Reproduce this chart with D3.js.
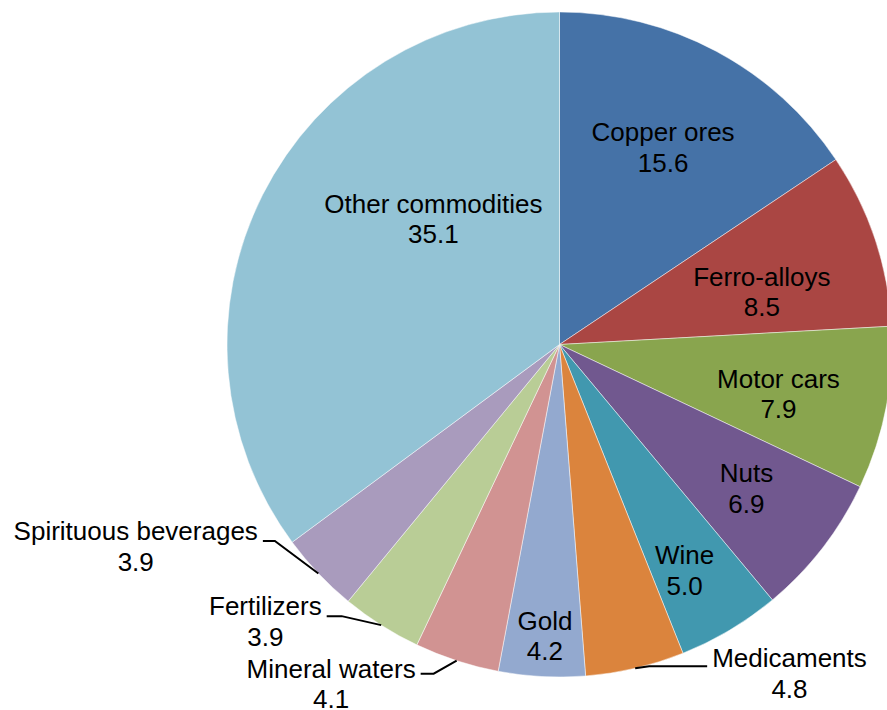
<!DOCTYPE html>
<html>
<head>
<meta charset="utf-8">
<script src="https://cdn.jsdelivr.net/npm/d3@7"></script>
<style>
  html, body { margin: 0; padding: 0; background: #fff; }
  svg { display: block; }
  text { font-family: "Liberation Sans", Arial, sans-serif; font-size: 26px; fill: #000; }
</style>
</head>
<body>
<svg id="chart" width="887" height="710"></svg>
<script>
// ---- data ----
const categories = ["Copper ores", "Ferro-alloys", "Motor cars", "Nuts", "Wine", "Medicaments",
                    "Gold", "Mineral waters", "Fertilizers", "Spirituous beverages", "Other commodities"];
const shares = [15.6, 8.5, 7.9, 6.9, 5.0, 4.8, 4.2, 4.1, 3.9, 3.9, 35.1];
const valueLabels = ["15.6", "8.5", "7.9", "6.9", "5.0", "4.8", "4.2", "4.1", "3.9", "3.9", "35.1"];

// ---- styles / layout ----
const colors = ["#4572A7", "#AA4643", "#89A54E", "#71588F", "#4198AF", "#DB843D",
                "#93A9CF", "#D19392", "#B9CD96", "#A99BBD", "#93C3D5"];
const W = 887, H = 710;
const cx = 559.5, cy = 344.5, R = 332.5;
const lineH = 30.5;

// inside labels: radius fraction and angle shift (degrees) from slice mid-angle
const insideLayout = {
  0: [0.670, -0.4],
  1: [0.629, 3.8],
  2: [0.675, 1.6],
  3: [0.709, -0.2],
  4: [0.776, 1.8],
  6: [0.877, -0.2],
  10: [0.536, 18.2]
};
// outside labels: elbow offset from arc point, horizontal segment length, side, baseline shift
const outsideLayout = {
  5: { elbow: [14, -2], hLen: 58, side: 1, shift: 1 },
  7: { elbow: [-23, 13], hLen: 13, side: -1, shift: 4 },
  8: { elbow: [-39.5, -9], hLen: 15, side: -1, shift: -1 },
  9: { elbow: [-43.5, -32.4], hLen: 12, side: -1, shift: -1 }
};

const svg = d3.select("#chart");
const g = svg.append("g").attr("transform", `translate(${cx},${cy})`);

const pie = d3.pie().sort(null).value(d => d);
const arcs = pie(shares);
const arc = d3.arc().innerRadius(0).outerRadius(R);

g.selectAll("path.slice")
  .data(arcs)
  .join("path")
  .attr("class", "slice")
  .attr("d", arc)
  .attr("fill", (d, i) => colors[i])
  .attr("stroke", "#ffffff")
  .attr("stroke-opacity", 0.6)
  .attr("stroke-width", 0.8);

function polar(angle, r) {
  return [r * Math.sin(angle), -r * Math.cos(angle)];
}

arcs.forEach((d, i) => {
  const mid = (d.startAngle + d.endAngle) / 2;
  if (insideLayout[i]) {
    const [f, shift] = insideLayout[i];
    const [x, y] = polar(mid + shift * Math.PI / 180, f * R);
    const t = g.append("text").attr("text-anchor", "middle");
    t.append("tspan").attr("x", x).attr("y", y - 6).text(categories[i]);
    t.append("tspan").attr("x", x).attr("y", y - 6 + lineH).text(valueLabels[i]);
  } else {
    const o = outsideLayout[i];
    const p0 = polar(mid, R);
    const p1 = [p0[0] + o.elbow[0], p0[1] + o.elbow[1]];
    const p2 = [p1[0] + o.side * o.hLen, p1[1]];
    g.append("path")
      .attr("d", d3.line()([p0, p1, p2]))
      .attr("fill", "none")
      .attr("stroke", "#000")
      .attr("stroke-width", 2);
    const t = g.append("text").attr("text-anchor", "middle");
    const s1 = t.append("tspan").attr("y", p2[1] + o.shift).text(categories[i]);
    const w = s1.node().getComputedTextLength();
    const tx = p2[0] + o.side * (5 + w / 2);
    s1.attr("x", tx);
    t.append("tspan").attr("x", tx).attr("y", p2[1] + o.shift + lineH).text(valueLabels[i]);
  }
});
</script>
</body>
</html>
